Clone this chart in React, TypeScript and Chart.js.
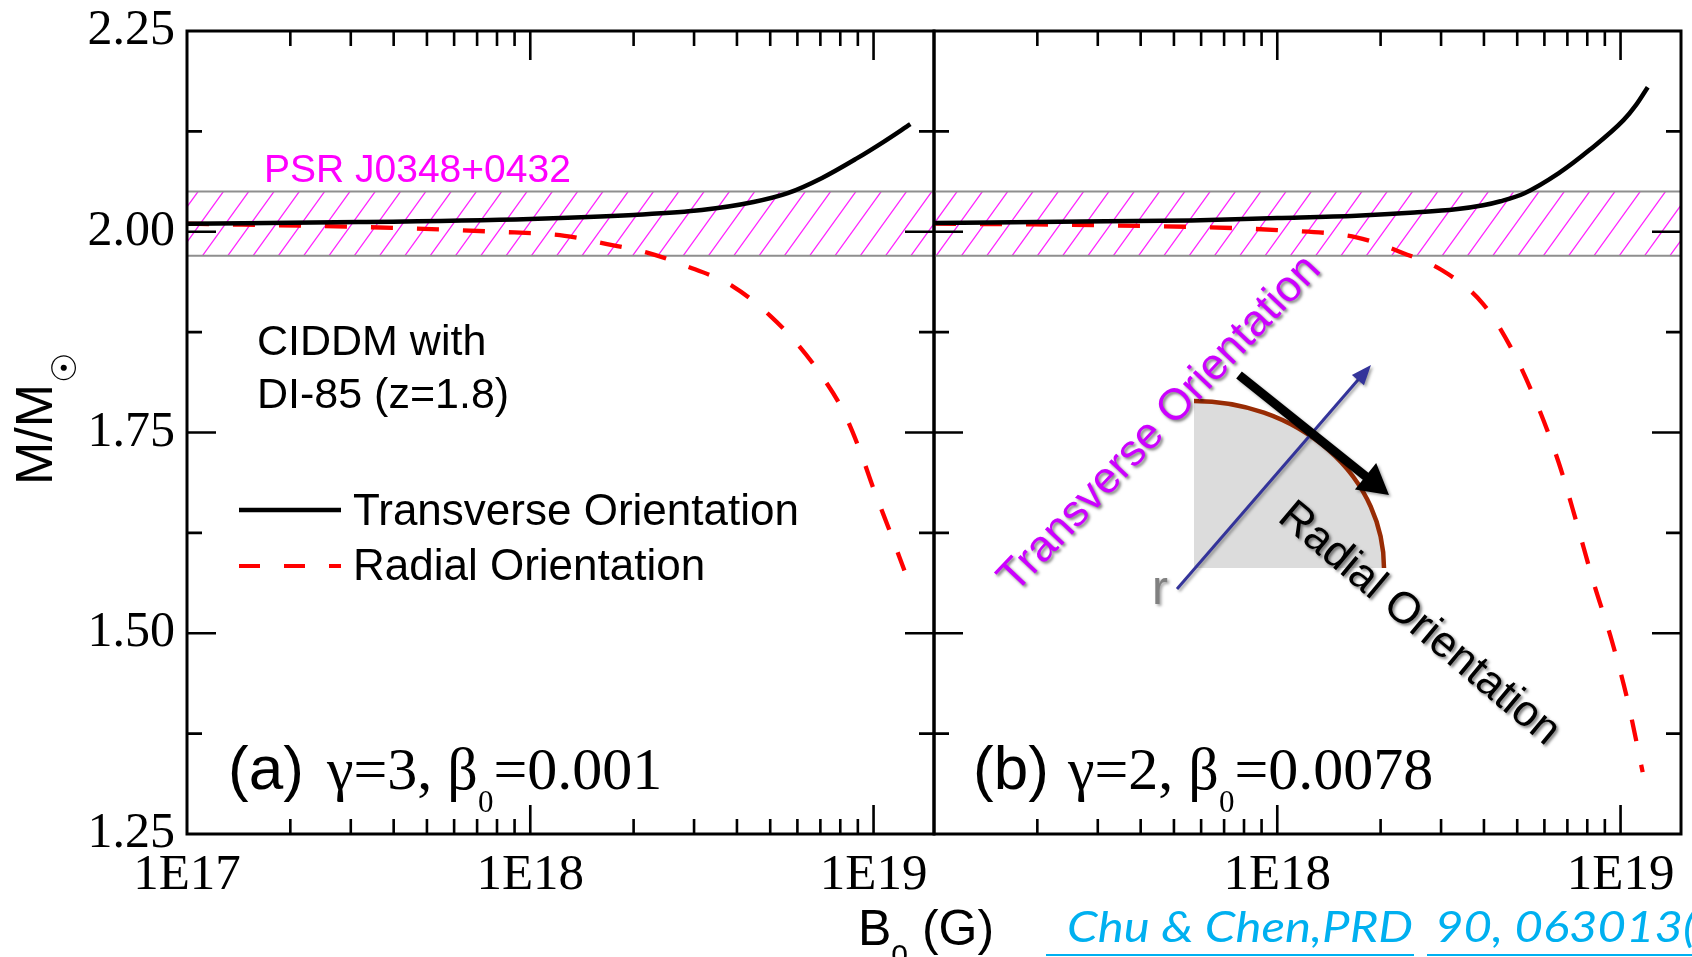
import { useEffect, useRef } from 'react';
import { Chart, registerables } from 'chart.js';

Chart.register(...registerables);

const CANVAS_W = 1692;
const CANVAS_H = 957;

// ---- data: B0 in gauss, M in solar masses ----
// Panel (a): γ=3, β0=0.001
const fieldA_transverse = [1e17, 3.16e17, 1e18, 2.0e18, 3.16e18, 4.47e18, 5.62e18, 7.08e18, 8.91e18, 1.07e19, 1.28e19];
const massA_transverse = [2.010, 2.012, 2.016, 2.021, 2.027, 2.037, 2.048, 2.067, 2.091, 2.112, 2.134];
const fieldA_radial = [1e17, 3.16e17, 7.94e17, 1.26e18, 1.66e18, 2.19e18, 2.82e18, 3.89e18, 5.01e18, 6.03e18, 7.08e18, 8.13e18, 9.12e18, 1e19, 1.12e19, 1.23e19];
const massA_radial = [2.010, 2.006, 2.000, 1.995, 1.985, 1.974, 1.958, 1.932, 1.895, 1.859, 1.820, 1.778, 1.728, 1.680, 1.625, 1.578];

// Panel (b): γ=2, β0=0.0078
const fieldB_transverse = [1e17, 3.16e17, 5.62e17, 1e18, 1.70e18, 2.51e18, 3.31e18, 3.98e18, 4.47e18, 5.25e18, 6.61e18, 8.13e18, 1.02e19, 1.11e19, 1.20e19];
const massB_transverse = [2.011, 2.013, 2.014, 2.017, 2.020, 2.024, 2.028, 2.033, 2.038, 2.048, 2.073, 2.102, 2.139, 2.158, 2.180];
const fieldB_radial = [1e17, 3.16e17, 1e18, 1.70e18, 2.34e18, 3.02e18, 3.98e18, 4.79e18, 5.69e18, 6.61e18, 7.41e18, 8.32e18, 9.44e18, 1.05e19, 1.16e19];
const massB_radial = [2.010, 2.008, 2.002, 1.993, 1.973, 1.952, 1.910, 1.856, 1.787, 1.712, 1.641, 1.565, 1.490, 1.415, 1.327];

// PSR J0348+0432 mass constraint
const psrMassLow = 1.97;
const psrMassHigh = 2.05;

// axes
const xAxisMin = 1e17;
const xAxisMax = 1.5e19;
const xLabelValuesA = [1e17, 1e18, 1e19];
const xLabelValuesB = [1e18, 1e19];
const xLabelText = ['1E17', '1E18', '1E19'];
const yAxisMin = 1.25;
const yAxisMax = 2.25;
const yLabelValues = [1.25, 1.5, 1.75, 2.0, 2.25];
const yMinorValues = [1.375, 1.625, 1.875, 2.125];

// ---- layout ----
const PLOT_TOP = 31;
const PLOT_BOTTOM = 834;
const PANEL_A = { left: 187, right: 934 };
const PANEL_B = { left: 934, right: 1681 };

const SERIF = '"Liberation Serif", "Times New Roman", serif';
const SANS = '"Liberation Sans", Arial, sans-serif';

type Pt = { x: number; y: number };
const pts = (xs: number[], ys: number[]): Pt[] => xs.map((x, i) => ({ x, y: ys[i] }));

// minor/major tick values of the log axis
function logTickValues(): { v: number; major: boolean }[] {
  const out: { v: number; major: boolean }[] = [];
  for (let e = 17; e <= 19; e++) {
    for (let m = 1; m <= 9; m++) {
      const v = m * Math.pow(10, e);
      if (v > xAxisMin && v < xAxisMax) out.push({ v, major: m === 1 });
    }
  }
  return out;
}

type Run = { text: string; font: string; dy?: number };
function drawRuns(ctx: CanvasRenderingContext2D, x: number, y: number, runs: Run[]) {
  let cx = x;
  for (const r of runs) {
    ctx.font = r.font;
    ctx.fillText(r.text, cx, y + (r.dy || 0));
    cx += ctx.measureText(r.text).width;
  }
  return cx;
}

// hatched PSR band
const bandPlugin = {
  id: 'psrBand',
  beforeDatasetsDraw(chart: any) {
    const { ctx, chartArea, scales } = chart;
    const { left, right } = chartArea;
    const yt = scales.y.getPixelForValue(psrMassHigh);
    const yb = scales.y.getPixelForValue(psrMassLow);
    const h = yb - yt;
    const dx = h * 0.72;
    const step = 25.3;
    ctx.save();
    ctx.beginPath();
    ctx.rect(left, yt, right - left, h);
    ctx.clip();
    ctx.strokeStyle = 'rgba(255,0,255,0.85)';
    ctx.lineWidth = 1.3;
    ctx.beginPath();
    for (let x0 = Math.floor((left - dx) / step) * step; x0 < right + step; x0 += step) {
      ctx.moveTo(x0, yb);
      ctx.lineTo(x0 + dx, yt);
    }
    ctx.stroke();
    ctx.restore();
    ctx.save();
    ctx.strokeStyle = '#8f8f8f';
    ctx.lineWidth = 2;
    ctx.beginPath();
    ctx.moveTo(left, yt);
    ctx.lineTo(right, yt);
    ctx.moveTo(left, yb);
    ctx.lineTo(right, yb);
    ctx.stroke();
    ctx.restore();
  },
};

// box frame with inward ticks on all four sides
const framePlugin = {
  id: 'frameTicks',
  afterDatasetsDraw(chart: any) {
    const { ctx, chartArea, scales } = chart;
    const { left, right, top, bottom } = chartArea;
    ctx.save();
    ctx.strokeStyle = '#000';
    ctx.lineWidth = 3;
    ctx.lineCap = 'butt';
    ctx.strokeRect(left, top, right - left, bottom - top);
    ctx.lineWidth = 2.6;
    ctx.beginPath();
    for (const t of logTickValues()) {
      const px = scales.x.getPixelForValue(t.v);
      const len = t.major ? 29 : 15;
      ctx.moveTo(px, bottom);
      ctx.lineTo(px, bottom - len);
      ctx.moveTo(px, top);
      ctx.lineTo(px, top + len);
    }
    const yTicks = [
      ...yLabelValues.map((v) => ({ v, major: true })),
      ...yMinorValues.map((v) => ({ v, major: false })),
    ];
    for (const t of yTicks) {
      if (t.v <= yAxisMin || t.v >= yAxisMax) continue;
      const py = scales.y.getPixelForValue(t.v);
      const len = t.major ? 29 : 15;
      ctx.moveTo(left, py);
      ctx.lineTo(left + len, py);
      ctx.moveTo(right, py);
      ctx.lineTo(right - len, py);
    }
    ctx.stroke();
    ctx.restore();
  },
};

// texts and legend of panel (a), axis titles
const panelAText = {
  id: 'panelAText',
  afterDraw(chart: any) {
    const { ctx } = chart;
    ctx.save();
    ctx.textBaseline = 'alphabetic';
    ctx.textAlign = 'left';

    ctx.fillStyle = '#ff00ff';
    ctx.font = `39px ${SANS}`;
    ctx.fillText('PSR J0348+0432', 264, 182);

    ctx.fillStyle = '#000';
    ctx.font = `43px ${SANS}`;
    ctx.fillText('CIDDM with', 257, 355);
    ctx.fillText('DI-85 (z=1.8)', 257, 408);

    // legend
    ctx.lineWidth = 4.5;
    ctx.strokeStyle = '#000';
    ctx.beginPath();
    ctx.moveTo(239, 510);
    ctx.lineTo(341, 510);
    ctx.stroke();
    ctx.strokeStyle = '#ff0000';
    ctx.lineWidth = 4;
    ctx.setLineDash([21, 24]);
    ctx.beginPath();
    ctx.moveTo(239, 566);
    ctx.lineTo(341, 566);
    ctx.stroke();
    ctx.setLineDash([]);
    ctx.font = `44px ${SANS}`;
    ctx.fillText('Transverse Orientation', 353, 525);
    ctx.fillText('Radial Orientation', 353, 580);

    // panel label
    ctx.font = `62px ${SANS}`;
    ctx.fillText('(a)', 228, 789);
    drawRuns(ctx, 327, 789, [
      { text: 'γ=3, β', font: `60px ${SERIF}` },
      { text: '0', font: `31px ${SERIF}`, dy: 23 },
      { text: '=0.001', font: `60px ${SERIF}` },
    ]);

    // y title
    ctx.save();
    ctx.translate(52, 485);
    ctx.rotate(-Math.PI / 2);
    ctx.font = `52px ${SANS}`;
    ctx.fillText('M/M', 0, 0);
    const w = ctx.measureText('M/M').width;
    ctx.font = '34px "DejaVu Sans", sans-serif';
    ctx.fillText('☉', w + 1, 24);
    ctx.restore();

    // x title
    drawRuns(ctx, 858, 945, [
      { text: 'B', font: `50px ${SANS}` },
      { text: '0', font: `30px ${SANS}`, dy: 20 },
      { text: ' (G)', font: `50px ${SANS}` },
    ]);
    ctx.restore();
  },
};

function arrow(ctx: CanvasRenderingContext2D, x0: number, y0: number, x1: number, y1: number, lw: number, headLen: number, headHalf: number, color: string) {
  const L = Math.hypot(x1 - x0, y1 - y0);
  const ux = (x1 - x0) / L;
  const uy = (y1 - y0) / L;
  const bx = x1 - ux * headLen;
  const by = y1 - uy * headLen;
  ctx.strokeStyle = color;
  ctx.fillStyle = color;
  ctx.lineWidth = lw;
  ctx.beginPath();
  ctx.moveTo(x0, y0);
  ctx.lineTo(bx + ux * 2, by + uy * 2);
  ctx.stroke();
  ctx.beginPath();
  ctx.moveTo(x1, y1);
  ctx.lineTo(bx - uy * headHalf, by + ux * headHalf);
  ctx.lineTo(bx + uy * headHalf, by - ux * headHalf);
  ctx.closePath();
  ctx.fill();
}

// orientation sketch, panel label (b) and reference line
const panelBText = {
  id: 'panelBText',
  afterDraw(chart: any) {
    const { ctx } = chart;
    ctx.save();
    ctx.textBaseline = 'alphabetic';
    ctx.textAlign = 'left';

    // shaded quarter disc with its rim
    const cx = 1194, cy = 568, rx = 190, ry = 167;
    ctx.fillStyle = '#dcdcdc';
    ctx.beginPath();
    ctx.moveTo(cx, cy);
    ctx.lineTo(cx, cy - ry);
    ctx.ellipse(cx, cy, rx, ry, 0, -Math.PI / 2, 0);
    ctx.closePath();
    ctx.fill();
    ctx.strokeStyle = '#982c05';
    ctx.lineWidth = 4.5;
    ctx.beginPath();
    ctx.ellipse(cx, cy, rx, ry, 0, -Math.PI / 2, 0);
    ctx.stroke();

    ctx.shadowColor = 'rgba(0,0,0,0.35)';
    ctx.shadowOffsetX = 2;
    ctx.shadowOffsetY = 2;
    ctx.shadowBlur = 3;
    arrow(ctx, 1177, 589, 1371, 365, 3, 20, 8, '#34349a');
    arrow(ctx, 1239, 375, 1389, 495, 9, 30, 17, '#000');

    ctx.fillStyle = '#808080';
    ctx.font = `48px ${SANS}`;
    ctx.fillText('r', 1152, 604);

    ctx.textAlign = 'center';
    ctx.textBaseline = 'middle';
    ctx.font = `44px ${SANS}`;
    ctx.save();
    ctx.translate(1160, 424);
    ctx.rotate((-46.5 * Math.PI) / 180);
    ctx.shadowColor = 'rgba(0,0,0,0.5)';
    ctx.fillStyle = '#cc00ff';
    ctx.fillText('Transverse Orientation', 0, 0);
    ctx.restore();
    ctx.save();
    ctx.translate(1419, 624);
    ctx.rotate((40 * Math.PI) / 180);
    ctx.shadowColor = 'rgba(0,0,0,0.5)';
    ctx.fillStyle = '#000';
    ctx.fillText('Radial Orientation', 0, 0);
    ctx.restore();

    ctx.shadowColor = 'transparent';
    ctx.textAlign = 'left';
    ctx.textBaseline = 'alphabetic';
    ctx.fillStyle = '#000';
    ctx.font = `62px ${SANS}`;
    ctx.fillText('(b)', 973, 789);
    drawRuns(ctx, 1068, 789, [
      { text: 'γ=2, β', font: `60px ${SERIF}` },
      { text: '0', font: `31px ${SERIF}`, dy: 23 },
      { text: '=0.0078', font: `60px ${SERIF}` },
    ]);

    // reference
    const citeFont = 'italic 43px Lato, "Open Sans", sans-serif';
    const part1 = 'Chu & Chen,PRD';
    const part2 = '90, 063013(2014)';
    ctx.font = citeFont;
    const sx = 346 / ctx.measureText(part1).width;
    ctx.fillStyle = '#00b0f0';
    ctx.save();
    ctx.translate(1067, 942);
    ctx.scale(sx, 1);
    ctx.fillText(part1, 0, 0);
    ctx.restore();
    ctx.save();
    ctx.translate(1435, 942);
    ctx.scale(sx, 1);
    ctx.fillText(part2, 0, 0);
    ctx.restore();
    ctx.strokeStyle = '#00b0f0';
    ctx.lineWidth = 2;
    ctx.beginPath();
    ctx.moveTo(1046, 955);
    ctx.lineTo(1414, 955);
    ctx.moveTo(1427, 955);
    ctx.lineTo(CANVAS_W, 955);
    ctx.stroke();
    ctx.restore();
  },
};

type Tune = { padTop: number; padLeft: number; padRight: number; xHeight: number; yWidth: number };

function makeConfig(panel: 'a' | 'b', tune: Tune): any {
  const isA = panel === 'a';
  const labelValues = isA ? xLabelValuesA : xLabelValuesB;
  const transverse = isA ? pts(fieldA_transverse, massA_transverse) : pts(fieldB_transverse, massB_transverse);
  const radial = isA ? pts(fieldA_radial, massA_radial) : pts(fieldB_radial, massB_radial);
  return {
    type: 'line',
    data: {
      datasets: [
        {
          label: 'Transverse Orientation',
          data: transverse,
          borderColor: '#000',
          borderWidth: 4.5,
          pointRadius: 0,
          cubicInterpolationMode: 'monotone',
          fill: false,
        },
        {
          label: 'Radial Orientation',
          data: radial,
          borderColor: '#ff0000',
          borderWidth: 4.3,
          borderDash: [22, 24],
          pointRadius: 0,
          cubicInterpolationMode: 'monotone',
          fill: false,
        },
      ],
    },
    options: {
      responsive: false,
      animation: false,
      devicePixelRatio: 1,
      events: [],
      layout: {
        padding: { left: tune.padLeft, right: tune.padRight, top: tune.padTop, bottom: 0 },
      },
      plugins: { legend: { display: false }, tooltip: { enabled: false } },
      scales: {
        x: {
          type: 'logarithmic',
          min: xAxisMin,
          max: xAxisMax,
          grid: { display: false, drawTicks: false },
          border: { display: false },
          afterBuildTicks: (s: any) => {
            s.ticks = labelValues.map((v) => ({ value: v }));
          },
          afterFit: (s: any) => {
            s.height = tune.xHeight;
          },
          ticks: {
            autoSkip: false,
            maxRotation: 0,
            padding: 11,
            color: '#000',
            font: { family: SERIF, size: 51 },
            callback: (v: number) => xLabelText[Math.round(Math.log10(v)) - 17],
          },
        },
        y: {
          display: isA,
          min: yAxisMin,
          max: yAxisMax,
          grid: { display: false, drawTicks: false },
          border: { display: false },
          afterBuildTicks: (s: any) => {
            s.ticks = yLabelValues.map((v) => ({ value: v }));
          },
          afterFit: (s: any) => {
            s.width = isA ? tune.yWidth : 0;
          },
          ticks: {
            padding: 12,
            color: '#000',
            font: { family: SERIF, size: 50, lineHeight: 0.5 },
            callback: (v: number) => v.toFixed(2),
          },
        },
      },
    },
    plugins: isA ? [bandPlugin, framePlugin, panelAText] : [bandPlugin, framePlugin, panelBText],
  };
}

// nudge paddings until the plot box sits on the intended frame
function settleChartArea(chart: any, bounds: { left: number; right: number }, tune: Tune, isA: boolean) {
  for (let i = 0; i < 4; i++) {
    const ca = chart.chartArea;
    const dt = PLOT_TOP - ca.top;
    const db = ca.bottom - PLOT_BOTTOM;
    const dl = bounds.left - ca.left;
    const dr = ca.right - bounds.right;
    if (Math.abs(dt) < 0.5 && Math.abs(db) < 0.5 && Math.abs(dl) < 0.5 && Math.abs(dr) < 0.5) break;
    tune.padTop = Math.max(0, tune.padTop + dt);
    tune.xHeight += db;
    if (isA) tune.yWidth += dl;
    else tune.padLeft = Math.max(0, tune.padLeft + dl);
    tune.padRight = Math.max(0, tune.padRight + dr);
    chart.options.layout.padding = { left: tune.padLeft, right: tune.padRight, top: tune.padTop, bottom: 0 };
    chart.update();
  }
}

export default function App() {
  const refA = useRef<HTMLCanvasElement>(null);
  const refB = useRef<HTMLCanvasElement>(null);

  useEffect(() => {
    const tuneA: Tune = { padTop: PLOT_TOP, padLeft: 0, padRight: CANVAS_W - PANEL_A.right, xHeight: CANVAS_H - PLOT_BOTTOM, yWidth: PANEL_A.left };
    const tuneB: Tune = { padTop: PLOT_TOP, padLeft: PANEL_B.left, padRight: CANVAS_W - PANEL_B.right, xHeight: CANVAS_H - PLOT_BOTTOM, yWidth: 0 };
    const a = new Chart(refA.current as HTMLCanvasElement, makeConfig('a', tuneA));
    const b = new Chart(refB.current as HTMLCanvasElement, makeConfig('b', tuneB));
    settleChartArea(a, PANEL_A, tuneA, true);
    settleChartArea(b, PANEL_B, tuneB, false);
    return () => {
      a.destroy();
      b.destroy();
    };
  }, []);

  const canvasStyle: any = { position: 'absolute', left: 0, top: 0, width: CANVAS_W, height: CANVAS_H };
  return (
    <div style={{ position: 'fixed', left: 0, top: 0, width: CANVAS_W, height: CANVAS_H, background: '#fff', overflow: 'hidden' }}>
      <canvas ref={refA} width={CANVAS_W} height={CANVAS_H} style={canvasStyle} />
      <canvas ref={refB} width={CANVAS_W} height={CANVAS_H} style={canvasStyle} />
    </div>
  );
}
